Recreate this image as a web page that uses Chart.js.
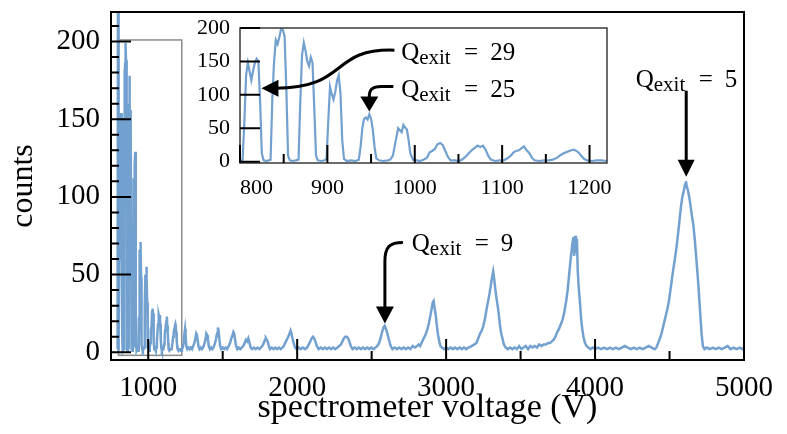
<!DOCTYPE html>
<html>
<head>
<meta charset="utf-8">
<script src="https://cdn.jsdelivr.net/npm/chart.js@4.4.1/dist/chart.umd.min.js"></script>
<style>
  html, body { margin: 0; padding: 0; background: #fff; }
  #wrap { position: relative; width: 787px; height: 434px; }
  #main { position: absolute; left: 0; top: 0; }
  #inset { position: absolute; left: 170px; top: 14px; }
</style>
</head>
<body>
<div id="wrap">
  <canvas id="main" width="787" height="434"></canvas>
  <canvas id="inset" width="450" height="190"></canvas>
</div>
<script>
// ---------------- DATA ----------------
// comb region (shown in inset and in main plot)
const lowVoltage = [
  794,797,799,801,803,805,807,809,811,813,815,817,819,821,823,825,827,830,833,
  835,837,839,841,843,845,847,849,851,853,855,857,860,864,
  867,869,871,873,875,877,879,881,883,885,887,889,893,897,
  899,901,903,905,907,909,911,913,915,917,919,922,927,932,
  936,938,940,942,944,946,948,950,952,954,956,959,964,969,
  972,975,978,981,983,985,987,989,991,993,995,998,1002,1006,
  1010,1014,1017,1020,1023,1026,1029,1032,1035,1038,1041,1046,1050,
  1054,1058,1062,1066,1069,1072,1075,1078,1081,1084,1087,1092,1097,
  1102,1106,1110,1113,1116,1119,1122,1125,1128,1131,1134,1137,1142,1148,1153,
  1158,1163,1167,1171,1175,1179,1182,1185,1188,1191,1194,1197,1203,1208,1214,1220,1226
];
const lowCounts = [
  2,240,2,1,3,60,130,148,135,122,136,148,154,150,90,12,2,1,2,
  3,95,150,182,176,186,199,197,188,110,9,2,1,2,
  3,90,160,178,166,150,143,156,148,80,9,2,1,2,
  4,60,112,101,93,104,121,129,102,32,4,1,2,1,
  3,22,50,64,66,63,71,64,48,22,5,2,1,2,
  3,9,30,50,47,44,55,51,48,32,12,3,2,1,
  3,6,14,16,19,26,28,25,16,7,2,2,1,
  3,7,13,18,21,24,22,24,18,9,3,1,2,
  2,5,9,14,16,17,20,23,17,13,6,2,1,2,2,
  3,6,10,13,15,17,18,16,13,8,4,2,1,2,2,1,2
];
// rest of the spectrum (main plot only)
const highVoltage = [
  1232,1238,1243,1247,1251,1256,1262,1270,1278,1286,1294,1302,1310,1317,1322,1327,1332,1337,1344,
  1352,1360,1368,1376,1384,1390,1396,1401,1406,1414,1422,1430,1438,1446,1454,1462,1468,1472,1477,
  1483,1490,1500,1510,1520,1530,1540,1550,1558,1566,1572,1577,1583,1590,1598,1608,1618,1628,1638,
  1648,1656,1664,1672,1680,1688,1698,1710,1722,1734,1746,1756,1766,1776,1784,1790,1796,1802,1810,
  1818,1830,1842,1854,1866,1878,1890,1900,1910,1920,1930,1940,1948,1956,1962,1968,1976,1986,1996,
  2010,2024,2038,2052,2066,2078,2088,2098,2106,2114,2122,2132,2144,2158,2172,2186,2200,2214,2228,
  2242,2256,2270,2282,2294,2304,2314,2324,2334,2342,2350,2360,2372,2386,2400,2414,2428,2442,2456,
  2470,2484,2498,2512,2526,2538,2550,2560,2570,2580,2588,2596,2606,2616,2628,2640,2655,2670,2685,
  2700,2715,2730,2745,2760,2775,2790,2805,2815,2825,2835,2845,2855,2865,2875,2885,2895,2903,2910,
  2916,2922,2930,2938,2946,2954,2962,2972,2985,3000,3015,3030,3045,3060,3075,3090,3105,3120,3135,
  3150,3170,3190,3204,3216,3228,3240,3250,3262,3272,3282,3292,3300,3308,3316,3323,3330,3338,3346,
  3354,3362,3370,3378,3388,3400,3415,3430,3445,3460,3475,3490,3505,3520,3535,3550,3565,3580,3595,
  3610,3625,3640,3655,3670,3685,3698,3710,3722,3734,3746,3758,3770,3782,3794,3806,3816,3826,3834,
  3842,3848,3854,3860,3866,3872,3878,3884,3890,3898,3906,3914,3922,3932,3943,3955,3970,3985,4000,
  4020,4040,4060,4080,4100,4120,4140,4160,4180,4200,4220,4240,4260,4280,4300,4320,4340,4360,4380,
  4400,4412,4424,4436,4446,4456,4466,4476,4486,4496,4506,4516,4526,4536,4546,4556,4566,4576,4586,
  4596,4604,4610,4616,4624,4632,4640,4650,4660,4670,4680,4690,4700,4708,4716,4724,4735,4750,4770,
  4790,4810,4830,4850,4870,4890,4910,4930,4950,4970,4990,5000
];
const highCounts = [
  3,6,12,15,10,4,2,3,2,3,2,4,6,9,12,11,8,4,2,
  3,2,3,5,8,12,11,8,4,2,3,2,3,5,8,12,16,14,9,
  4,2,3,2,3,2,4,6,9,11,13,12,8,4,2,3,2,3,4,
  6,8,7,9,6,3,2,3,2,3,2,3,4,6,8,9,8,7,4,
  2,3,2,3,2,3,2,3,4,6,8,10,12,14,12,9,6,3,2,
  3,2,3,2,3,5,7,9,10,9,7,4,2,3,2,3,2,3,2,
  3,2,3,4,5,7,9,10,10,9,7,4,2,3,2,3,2,3,2,
  3,2,3,2,3,4,6,9,13,16,17,15,12,8,4,2,3,2,3,
  2,3,2,3,2,4,3,4,5,4,6,8,10,12,15,19,24,28,32,
  33,29,24,17,11,7,4,3,2,3,2,3,2,3,2,3,2,3,2,
  3,4,5,6,9,12,14,17,22,28,33,38,43,48,52,47,41,35,30,
  24,17,12,9,5,3,2,3,2,3,2,4,2,3,4,2,4,3,4,
  3,5,4,5,5,6,6,7,8,10,13,15,18,21,26,33,40,50,58,
  65,70,74,62,75,64,73,52,42,33,22,15,10,6,4,3,2,3,2,
  3,2,3,2,3,2,3,2,3,4,3,2,3,2,3,2,3,4,3,
  2,3,6,9,12,16,20,24,28,33,40,47,54,60,67,75,84,93,100,
  104,108,110,107,104,100,95,88,82,72,60,48,34,22,11,4,2,3,2,
  3,2,3,2,3,4,2,3,2,3,2,3
];

// axes
const mainXTicks = [1000, 2000, 3000, 4000, 5000];
const mainXMinor = [1500, 2500, 3500, 4500];
const mainYTicks = [0, 50, 100, 150, 200];
const mainYMinor = [10, 20, 30, 40, 60, 70, 80, 90, 110, 120, 130, 140, 160, 170, 180, 190, 210];
const insetXTicks = [800, 900, 1000, 1100, 1200];
const insetXMinor = [850, 950, 1050, 1150];
const insetYTicks = [0, 50, 100, 150, 200];

// zoom box and annotation labels
const zoomBox = { x0: 800, x1: 1225, y0: -2, y1: 201 };
const labelTexts = { peak5: '5', peak9: '9', peak29: '29', peak25: '25' };

// ---------------- STYLE ----------------
const SERIF = "'Liberation Serif', 'DejaVu Serif', serif";
const BLUE = 'rgba(106,155,204,0.95)';

function pairs(xs, ys) { return xs.map((v, i) => ({ x: v, y: ys[i] })); }
const lowData = pairs(lowVoltage, lowCounts);
const mainData = lowData.concat(pairs(highVoltage, highCounts));

function drawQLabel(ctx, x, y, num) {
  ctx.save();
  ctx.fillStyle = '#000';
  ctx.textBaseline = 'alphabetic';
  ctx.textAlign = 'left';
  ctx.font = '25px ' + SERIF;
  ctx.fillText('Q', x, y);
  ctx.font = '21px ' + SERIF;
  ctx.fillText('exit', x + 18, y + 4);
  ctx.font = '25px ' + SERIF;
  ctx.textAlign = 'center';
  ctx.fillText('=', x + 70, y);
  ctx.textAlign = 'left';
  ctx.fillText(num, x + 89, y);
  ctx.restore();
}

function head(ctx, tip, dx, dy, len, hw) {
  const bx = tip.x - dx * len, by = tip.y - dy * len;
  ctx.beginPath();
  ctx.moveTo(tip.x, tip.y);
  ctx.lineTo(bx - dy * hw, by + dx * hw);
  ctx.lineTo(bx + dy * hw, by - dx * hw);
  ctx.closePath();
  ctx.fill();
}

function px(chart, x, y) {
  return { x: chart.scales.x.getPixelForValue(x), y: chart.scales.y.getPixelForValue(y) };
}

function drawTicks(ctx, chart, xs, xMinor, ys, yMinor, majLen, minLen, xMajLen, xMinLen) {
  const a = chart.chartArea;
  ctx.save();
  ctx.strokeStyle = '#000';
  ctx.lineWidth = 2;
  ctx.beginPath();
  ys.forEach(v => { const p = chart.scales.y.getPixelForValue(v); ctx.moveTo(a.left, p); ctx.lineTo(a.left + majLen, p); });
  yMinor.forEach(v => { const p = chart.scales.y.getPixelForValue(v); ctx.moveTo(a.left, p); ctx.lineTo(a.left + minLen, p); });
  xs.forEach(v => { const p = chart.scales.x.getPixelForValue(v); ctx.moveTo(p, a.bottom); ctx.lineTo(p, a.bottom - xMajLen); });
  xMinor.forEach(v => { const p = chart.scales.x.getPixelForValue(v); ctx.moveTo(p, a.bottom); ctx.lineTo(p, a.bottom - xMinLen); });
  ctx.stroke();
  ctx.restore();
}

const mainPlugin = {
  id: 'mainDecor',
  beforeDatasetsDraw(chart) {
    const ctx = chart.ctx;
    const p0 = px(chart, zoomBox.x0, zoomBox.y1), p1 = px(chart, zoomBox.x1, zoomBox.y0);
    ctx.save();
    ctx.strokeStyle = '#8c8c8c';
    ctx.lineWidth = 1.5;
    ctx.strokeRect(p0.x, p0.y, p1.x - p0.x, p1.y - p0.y);
    ctx.restore();
  },
  afterDatasetsDraw(chart) {
    const ctx = chart.ctx, a = chart.chartArea;
    drawTicks(ctx, chart, mainXTicks, mainXMinor, mainYTicks, mainYMinor, 20, 8, 21, 9);
    ctx.save();
    ctx.strokeStyle = '#000';
    ctx.lineWidth = 2;
    ctx.strokeRect(a.left, a.top, a.right - a.left, a.bottom - a.top);
    ctx.restore();

    ctx.save();
    ctx.strokeStyle = '#000';
    ctx.fillStyle = '#000';
    ctx.lineWidth = 3;
    // Q_exit = 5
    const t5 = px(chart, 4612, 113);
    ctx.beginPath();
    ctx.moveTo(t5.x, t5.y - 86);
    ctx.lineTo(t5.x, t5.y - 14);
    ctx.stroke();
    head(ctx, t5, 0, 1, 17, 8.5);
    const l5 = px(chart, 4273, 171);
    drawQLabel(ctx, l5.x, l5.y, labelTexts.peak5);
    // Q_exit = 9
    const t9 = px(chart, 2589, 18.5);
    ctx.beginPath();
    ctx.moveTo(t9.x + 18, t9.y - 81);
    ctx.bezierCurveTo(t9.x + 5, t9.y - 81, t9.x, t9.y - 77, t9.x, t9.y - 62);
    ctx.lineTo(t9.x, t9.y - 14);
    ctx.stroke();
    head(ctx, t9, 0, 1, 17, 9);
    const l9 = px(chart, 2770, 65);
    drawQLabel(ctx, l9.x, l9.y, labelTexts.peak9);
    ctx.restore();
  }
};

const insetPlugin = {
  id: 'insetDecor',
  afterDatasetsDraw(chart) {
    const ctx = chart.ctx, a = chart.chartArea;
    ctx.save();
    ctx.strokeStyle = '#3a3a3a';
    ctx.lineWidth = 1.5;
    ctx.strokeRect(a.left, a.top, a.right - a.left, a.bottom - a.top);
    ctx.restore();
    drawTicks(ctx, chart, insetXTicks, insetXMinor, insetYTicks, [], 20, 0, 18, 9);

    ctx.save();
    ctx.strokeStyle = '#000';
    ctx.fillStyle = '#000';
    ctx.lineWidth = 3;
    // Q_exit = 29
    const t29 = px(chart, 824.5, 110);
    ctx.beginPath();
    ctx.moveTo(t29.x + 133, t29.y - 38);
    ctx.bezierCurveTo(t29.x + 68, t29.y - 40, t29.x + 88, t29.y, t29.x + 14, t29.y);
    ctx.stroke();
    head(ctx, t29, -1, 0, 17, 8.5);
    const l29 = px(chart, 984.4, 152);
    drawQLabel(ctx, l29.x, l29.y, labelTexts.peak29);
    // Q_exit = 25
    const t25 = px(chart, 948, 75);
    ctx.beginPath();
    ctx.moveTo(t25.x + 24, t25.y - 25);
    ctx.lineTo(t25.x + 12, t25.y - 25);
    ctx.bezierCurveTo(t25.x + 3, t25.y - 25, t25.x, t25.y - 22, t25.x, t25.y - 15);
    ctx.lineTo(t25.x, t25.y - 12);
    ctx.stroke();
    head(ctx, t25, 0, 1, 15, 9);
    const l25 = px(chart, 984.4, 97);
    drawQLabel(ctx, l25.x, l25.y, labelTexts.peak25);
    ctx.restore();
  }
};

const common = {
  animation: false,
  responsive: false,
  devicePixelRatio: 1,
  events: [],
  plugins: { legend: { display: false }, tooltip: { enabled: false } }
};

function fitX(h) { return s => { s.height = h; s.paddingLeft = 0; s.paddingRight = 0; }; }
function fitY(w) { return s => { s.width = w; s.paddingTop = 0; s.paddingBottom = 0; }; }
const plain = v => String(v);

new Chart(document.getElementById('main'), {
  type: 'scatter',
  data: { datasets: [{ data: mainData, showLine: true, borderColor: BLUE, borderWidth: 2.5, pointRadius: 0, tension: 0 }] },
  options: Object.assign({}, common, {
    layout: { padding: { left: 0, top: 12, right: 43, bottom: 0 } },
    scales: {
      x: {
        type: 'linear', min: 750, max: 5000,
        afterBuildTicks: s => { s.ticks = mainXTicks.map(v => ({ value: v })); },
        afterFit: fitX(74),
        grid: { display: false, drawTicks: false },
        border: { display: false },
        ticks: { font: { family: SERIF, size: 29 }, color: '#000', padding: 11, maxRotation: 0, autoSkip: false, callback: plain },
        title: { display: true, text: 'spectrometer voltage (V)', font: { family: SERIF, size: 34 }, color: '#000', padding: { top: 0, bottom: 6 } }
      },
      y: {
        type: 'linear', min: -5, max: 219,
        afterBuildTicks: s => { s.ticks = mainYTicks.map(v => ({ value: v })); },
        afterFit: fitY(111),
        grid: { display: false, drawTicks: false },
        border: { display: false },
        ticks: { font: { family: SERIF, size: 29 }, color: '#000', padding: 11, autoSkip: false, callback: plain },
        title: { display: true, text: 'counts', font: { family: SERIF, size: 32 }, color: '#000', padding: { top: 4, bottom: 0 } }
      }
    }
  }),
  plugins: [mainPlugin]
});

new Chart(document.getElementById('inset'), {
  type: 'scatter',
  data: { datasets: [{ data: lowData, showLine: true, borderColor: BLUE, borderWidth: 2.2, pointRadius: 0, tension: 0 }] },
  options: Object.assign({}, common, {
    layout: { padding: { left: 0, top: 14, right: 13, bottom: 0 } },
    scales: {
      x: {
        type: 'linear', min: 800, max: 1220,
        afterBuildTicks: s => { s.ticks = insetXTicks.map(v => ({ value: v })).concat([{ value: 1220 }]); },
        afterFit: fitX(41),
        grid: { display: false, drawTicks: false },
        border: { display: false },
        ticks: {
          font: { family: SERIF, size: 22 }, color: '#000', padding: 12, maxRotation: 0, autoSkip: false, align: 'inner',
          callback: v => insetXTicks.includes(v) ? String(v) : ''
        }
      },
      y: {
        type: 'linear', min: -2, max: 200,
        afterBuildTicks: s => { s.ticks = insetYTicks.map(v => ({ value: v })); },
        afterFit: fitY(70),
        grid: { display: false, drawTicks: false },
        border: { display: false },
        ticks: { font: { family: SERIF, size: 22 }, color: '#000', padding: 10, autoSkip: false, callback: plain }
      }
    }
  }),
  plugins: [insetPlugin]
});
</script>
</body>
</html>
